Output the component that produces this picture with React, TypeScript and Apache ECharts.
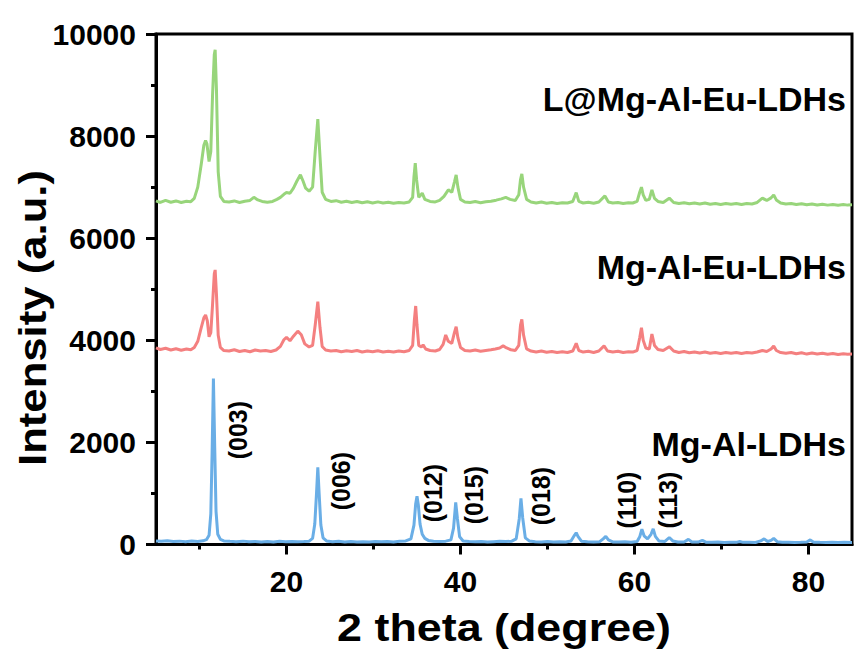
import React, { useEffect, useRef } from 'react';
import * as echarts from 'echarts';

// 2θ (degree), intensity (a.u.) pairs
const mgAlLDHs: number[][] = [
  [5, 70], [5.6, 62], [6.3, 75], [7, 58], [7.7, 66], [8.4, 55], [9.1, 68], [9.8, 60], [10.4, 72], [10.8, 95],
  [11.1, 180], [11.3, 600], [11.45, 1800], [11.6, 3250], [11.75, 1900], [11.9, 650], [12.1, 200], [12.4, 100],
  [12.8, 70], [13.5, 62], [14.2, 55], [15, 66], [15.7, 52], [16.4, 60], [17.1, 48], [17.8, 58], [18.5, 50],
  [19.2, 62], [19.9, 55], [20.6, 60], [21.3, 52], [22, 58], [22.6, 66], [23, 120], [23.25, 400], [23.45, 1000],
  [23.6, 1510], [23.75, 1000], [23.95, 380], [24.2, 130], [24.6, 70], [25.3, 55], [26, 62], [26.7, 50],
  [27.4, 58], [28.1, 48], [28.8, 56], [29.5, 50], [30.2, 60], [30.9, 52], [31.6, 57], [32.3, 50], [33, 62],
  [33.7, 70], [34.3, 110], [34.65, 380], [34.85, 800], [35, 947], [35.15, 780], [35.35, 400], [35.6, 200],
  [35.9, 120], [36.3, 80], [36.9, 62], [37.6, 58], [38.3, 66], [38.9, 90], [39.2, 320], [39.45, 823],
  [39.65, 500], [39.9, 150], [40.3, 70], [41, 58], [41.7, 52], [42.4, 60], [43.1, 50], [43.8, 56], [44.5, 62],
  [45.2, 58], [45.9, 66], [46.4, 110], [46.75, 500], [46.95, 902], [47.15, 520], [47.45, 130], [47.9, 70],
  [48.6, 55], [49.3, 50], [50, 58], [50.7, 48], [51.4, 55], [52.1, 50], [52.7, 70], [53.1, 180], [53.3, 230],
  [53.5, 160], [53.9, 65], [54.6, 52], [55.3, 48], [56, 55], [56.4, 110], [56.7, 160], [57, 90], [57.5, 50],
  [58.2, 48], [58.9, 52], [59.6, 45], [60.3, 60], [60.6, 150], [60.85, 300], [61.1, 170], [61.5, 110],
  [61.9, 200], [62.15, 306], [62.4, 160], [62.8, 70], [63.5, 60], [64, 137], [64.4, 70], [65, 50], [65.7, 48],
  [66.2, 100], [66.6, 50], [67.3, 48], [67.8, 80], [68.2, 45], [68.9, 42], [69.6, 48], [70.3, 40], [71, 46],
  [71.7, 42], [72.1, 60], [72.5, 42], [73.2, 45], [73.9, 40], [74.5, 70], [74.9, 110], [75.3, 60], [75.7, 80],
  [76, 120], [76.4, 55], [77, 42], [77.7, 45], [78.4, 40], [79.1, 44], [79.8, 50], [80.2, 90], [80.6, 45],
  [81.3, 42], [82, 40], [82.7, 44], [83.4, 38], [84.1, 42], [85, 40],
];

const mgAlEuLDHs: number[][] = [
  [5, 3850], [5.5, 3820], [6.1, 3845], [6.7, 3810], [7.3, 3835], [7.9, 3805], [8.5, 3830], [9.0, 3815],
  [9.4, 3860], [9.8, 3980], [10.2, 4250], [10.5, 4440], [10.7, 4496], [10.9, 4380], [11.1, 4070], [11.3, 4150],
  [11.5, 4700], [11.7, 5300], [11.8, 5378], [11.95, 4900], [12.15, 4100], [12.4, 3860], [12.8, 3800],
  [13.4, 3790], [14, 3815], [14.6, 3780], [15.2, 3800], [15.8, 3775], [16.4, 3810], [17, 3790], [17.6, 3800],
  [18.2, 3780], [18.8, 3810], [19.3, 3880], [19.7, 4010], [20.0, 4060], [20.4, 3990], [20.8, 4080],
  [21.3, 4180], [21.7, 4110], [22.1, 3930], [22.6, 3870], [23.0, 3900], [23.3, 4300], [23.6, 4757],
  [23.85, 4250], [24.1, 3880], [24.5, 3810], [25.1, 3790], [25.7, 3800], [26.3, 3775], [26.9, 3795],
  [27.5, 3780], [28.1, 3800], [28.7, 3770], [29.3, 3790], [29.9, 3775], [30.5, 3795], [31.1, 3770],
  [31.7, 3785], [32.3, 3770], [32.9, 3790], [33.5, 3775], [34.1, 3800], [34.5, 3900], [34.7, 4400],
  [34.85, 4672], [35.0, 4300], [35.2, 3900], [35.5, 3870], [35.7, 3910], [36.0, 3830], [36.5, 3800],
  [37.1, 3790], [37.6, 3820], [38.0, 3920], [38.3, 4104], [38.6, 3980], [39.0, 3940], [39.3, 4150],
  [39.5, 4267], [39.7, 4050], [40.0, 3860], [40.5, 3800], [41.1, 3790], [41.7, 3810], [42.3, 3785],
  [42.9, 3800], [43.5, 3815], [44.0, 3830], [44.5, 3850], [44.9, 3890], [45.3, 3850], [45.8, 3815],
  [46.3, 3800], [46.7, 3900], [46.9, 4300], [47.05, 4411], [47.25, 4100], [47.6, 3830], [48.1, 3790],
  [48.7, 3770], [49.3, 3790], [49.9, 3765], [50.5, 3780], [51.1, 3760], [51.7, 3775], [52.3, 3760],
  [52.9, 3790], [53.3, 3940], [53.6, 3800], [54.1, 3770], [54.7, 3785], [55.3, 3760], [55.9, 3790],
  [56.5, 3890], [56.9, 3790], [57.5, 3770], [58.1, 3785], [58.7, 3760], [59.3, 3775], [59.8, 3770],
  [60.3, 3800], [60.6, 4050], [60.8, 4247], [61.0, 4000], [61.3, 3850], [61.7, 3830], [62.0, 4124],
  [62.3, 3900], [62.7, 3820], [63.3, 3800], [64.0, 3875], [64.5, 3790], [65.1, 3760], [65.7, 3780],
  [66.3, 3755], [66.9, 3770], [67.5, 3750], [68.1, 3770], [68.7, 3745], [69.3, 3760], [69.9, 3740],
  [70.5, 3760], [71.1, 3745], [71.7, 3760], [72.3, 3740], [72.9, 3760], [73.5, 3750], [74.1, 3770],
  [74.7, 3800], [75.2, 3780], [75.7, 3830], [76.0, 3890], [76.3, 3800], [76.8, 3760], [77.4, 3745],
  [78, 3760], [78.6, 3735], [79.2, 3755], [79.8, 3730], [80.4, 3750], [81, 3730], [81.6, 3745],
  [82.2, 3725], [82.8, 3740], [83.4, 3720], [84, 3735], [84.5, 3725], [85, 3730],
];

const lMgAlEuLDHs: number[][] = [
  [5, 6730], [5.5, 6700], [6.1, 6740], [6.7, 6705], [7.3, 6730], [7.9, 6700], [8.5, 6725], [9.0, 6715],
  [9.4, 6780], [9.8, 7000], [10.2, 7450], [10.5, 7820], [10.7, 7914], [10.85, 7850], [11.1, 7502],
  [11.3, 7700], [11.5, 8800], [11.7, 9600], [11.8, 9692], [11.95, 8900], [12.15, 7300], [12.4, 6820],
  [12.8, 6720], [13.4, 6710], [14, 6730], [14.6, 6700], [15.2, 6725], [15.8, 6740], [16.25, 6800],
  [16.7, 6750], [17.2, 6720], [17.8, 6705], [18.4, 6720], [18.9, 6760], [19.3, 6800], [19.7, 6860],
  [20.0, 6894], [20.4, 6880], [20.8, 6980], [21.2, 7120], [21.6, 7241], [21.9, 7120], [22.2, 6980],
  [22.6, 6920], [23.0, 7000], [23.3, 7700], [23.6, 8333], [23.85, 7600], [24.1, 6900], [24.5, 6760],
  [25.1, 6720], [25.7, 6735], [26.3, 6705], [26.9, 6725], [27.5, 6700], [28.1, 6720], [28.7, 6695],
  [29.3, 6715], [29.9, 6690], [30.5, 6712], [31.1, 6690], [31.7, 6705], [32.3, 6685], [32.9, 6700],
  [33.5, 6690], [34.1, 6710], [34.5, 6800], [34.65, 7200], [34.8, 7471], [34.95, 7150], [35.2, 6800],
  [35.6, 6882], [35.9, 6760], [36.5, 6720], [37.1, 6710], [37.6, 6740], [38.1, 6820], [38.6, 6947],
  [39.0, 6900], [39.3, 7100], [39.5, 7241], [39.7, 7000], [40.0, 6760], [40.5, 6710], [41.1, 6700],
  [41.7, 6720], [42.3, 6695], [42.9, 6715], [43.5, 6725], [44.1, 6745], [44.7, 6770], [45.2, 6800],
  [45.7, 6760], [46.3, 6740], [46.7, 6850], [46.9, 7150], [47.05, 7261], [47.25, 7000], [47.6, 6760],
  [48.1, 6710], [48.7, 6690], [49.3, 6710], [49.9, 6685], [50.5, 6700], [51.1, 6680], [51.7, 6695],
  [52.3, 6690], [52.9, 6720], [53.3, 6894], [53.6, 6720], [54.1, 6690], [54.7, 6705], [55.3, 6685],
  [55.9, 6710], [56.6, 6829], [57, 6710], [57.5, 6690], [58.1, 6700], [58.7, 6680], [59.3, 6695],
  [59.8, 6690], [60.3, 6720], [60.6, 6900], [60.8, 7000], [61.0, 6850], [61.3, 6740], [61.7, 6760],
  [62.0, 6947], [62.3, 6780], [62.7, 6720], [63.3, 6700], [64.0, 6784], [64.5, 6700], [65.1, 6680],
  [65.7, 6695], [66.3, 6675], [66.9, 6690], [67.5, 6670], [68.1, 6690], [68.7, 6665], [69.3, 6680],
  [69.9, 6660], [70.5, 6680], [71.1, 6665], [71.7, 6680], [72.3, 6660], [72.9, 6680], [73.5, 6670],
  [74.1, 6700], [74.7, 6784], [75.2, 6740], [75.7, 6790], [76.0, 6849], [76.3, 6750], [76.8, 6690],
  [77.4, 6670], [78, 6680], [78.6, 6660], [79.2, 6675], [79.8, 6655], [80.4, 6670], [81, 6650],
  [81.6, 6665], [82.2, 6648], [82.8, 6660], [83.4, 6645], [84, 6658], [84.5, 6648], [85, 6653],
];

const seriesNames = ['Mg-Al-LDHs', 'Mg-Al-Eu-LDHs', 'L@Mg-Al-Eu-LDHs'];
const xTickValues = [20, 40, 60, 80];
const xMinorTickValues = [10, 30, 50, 70];
const hklNames = ['(003)', '(006)', '(012)', '(015)', '(018)', '(110)', '(113)'];
const hklAnchors = [
  [14.45, 2241], [26.3, 1241], [36.8, 1006], [41.6, 967], [49.3, 947], [59.15, 869], [63.8, 869],
];

const FONT = "'Liberation Sans', Arial, Helvetica, sans-serif";

export default function App() {
  const ref = useRef<HTMLDivElement>(null);

  useEffect(() => {
    if (!ref.current) return;
    const chart = echarts.init(ref.current, null, { renderer: 'svg' });
    const black = '#000';
    const sampleLabel = (text: string, y: number) => ({
      type: 'text',
      x: 846,
      y,
      style: {
        text,
        fontSize: 34,
        fontWeight: 'bold',
        fontFamily: FONT,
        fill: black,
        align: 'right',
        verticalAlign: 'middle',
        textAlign: 'right',
        textVerticalAlign: 'middle',
      },
    });

    chart.setOption({
      animation: false,
      backgroundColor: '#fff',
      grid: {
        left: 156,
        top: 34,
        width: 696,
        height: 510.5,
        show: true,
        borderColor: black,
        borderWidth: 3,
        backgroundColor: 'transparent',
      },
      xAxis: [
        {
          type: 'value',
          min: 5,
          max: 85,
          position: 'bottom',
          axisLine: { show: true, onZero: false, lineStyle: { color: black, width: 3 } },
          axisTick: { show: true, customValues: xTickValues, length: 10, lineStyle: { color: black, width: 3 } },
          axisLabel: {
            customValues: xTickValues,
            margin: 22,
            fontSize: 30,
            fontWeight: 'bold',
            color: black,
            fontFamily: FONT,
            formatter: (v: number) => String(v),
          },
          splitLine: { show: false },
        },
        {
          type: 'value',
          min: 5,
          max: 85,
          position: 'bottom',
          axisLine: { show: false },
          axisTick: { show: true, customValues: xMinorTickValues, length: 5, lineStyle: { color: black, width: 3 } },
          axisLabel: { show: false },
          splitLine: { show: false },
        },
      ],
      yAxis: {
        type: 'value',
        min: 0,
        max: 10000,
        interval: 2000,
        axisLine: { show: true, lineStyle: { color: black, width: 3 } },
        axisTick: { show: true, length: 10, lineStyle: { color: black, width: 3 } },
        minorTick: { show: true, splitNumber: 2, length: 5, lineStyle: { color: black, width: 3 } },
        axisLabel: {
          margin: 20,
          fontSize: 30,
          fontWeight: 'bold',
          color: black,
          fontFamily: FONT,
          formatter: (v: number) => String(v),
        },
        splitLine: { show: false },
        minorSplitLine: { show: false },
      },
      series: [
        {
          name: seriesNames[0],
          type: 'line',
          xAxisIndex: 0,
          data: mgAlLDHs,
          showSymbol: false,
          lineStyle: { color: '#6aaee6', width: 3 },
          itemStyle: { color: '#6aaee6' },
          markPoint: {
            symbol: 'circle',
            symbolSize: 1,
            silent: true,
            itemStyle: { color: 'rgba(0,0,0,0)' },
            label: {
              show: true,
              position: 'inside',
              rotate: 90,
              fontSize: 25,
              fontWeight: 'bold',
              color: black,
              fontFamily: FONT,
              formatter: '{b}',
            },
            data: hklNames.map((n, i) => ({ name: n, coord: hklAnchors[i] })),
          },
        },
        {
          name: seriesNames[1],
          type: 'line',
          xAxisIndex: 0,
          data: mgAlEuLDHs,
          showSymbol: false,
          lineStyle: { color: '#f48080', width: 3 },
          itemStyle: { color: '#f48080' },
        },
        {
          name: seriesNames[2],
          type: 'line',
          xAxisIndex: 0,
          data: lMgAlEuLDHs,
          showSymbol: false,
          lineStyle: { color: '#98d57b', width: 3 },
          itemStyle: { color: '#98d57b' },
        },
      ],
      graphic: [
        sampleLabel(seriesNames[2], 99),
        sampleLabel(seriesNames[1], 267),
        sampleLabel(seriesNames[0], 444),
        {
          type: 'text',
          x: 504,
          y: 628,
          scaleX: 1.15,
          style: {
            text: '2 theta (degree)',
            fontSize: 39,
            fontWeight: 'bold',
            fontFamily: FONT,
            fill: black,
            align: 'center',
            verticalAlign: 'middle',
            textAlign: 'center',
            textVerticalAlign: 'middle',
          },
        },
        {
          type: 'text',
          x: 33,
          y: 318,
          rotation: Math.PI / 2,
          scaleX: 1.12,
          style: {
            text: 'Intensity (a.u.)',
            fontSize: 39,
            fontWeight: 'bold',
            fontFamily: FONT,
            fill: black,
            align: 'center',
            verticalAlign: 'middle',
            textAlign: 'center',
            textVerticalAlign: 'middle',
          },
        },
      ],
    });

    return () => {
      chart.dispose();
    };
  }, []);

  return (
    <div
      ref={ref}
      style={{ position: 'fixed', left: 0, top: 0, width: 854, height: 655, background: '#fff' }}
    />
  );
}
